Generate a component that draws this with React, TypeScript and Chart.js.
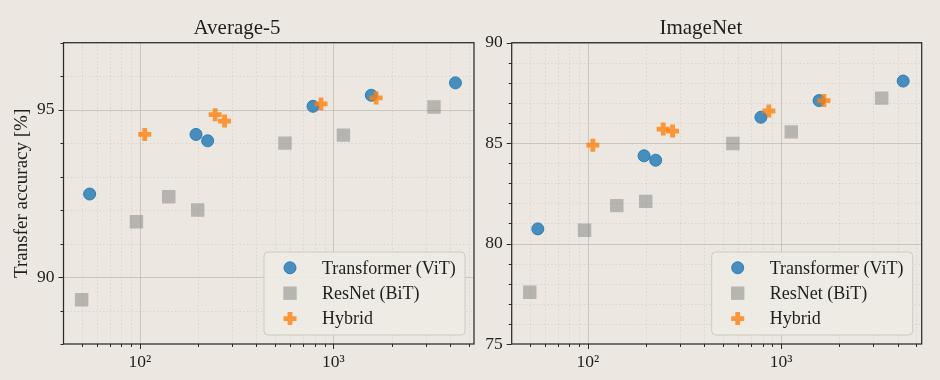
import React, { useEffect, useRef } from 'react';
import { Chart, registerables } from 'chart.js';

Chart.register(...registerables);

const FONT = '"Liberation Serif", "DejaVu Serif", "Times New Roman", serif';
const BG = '#ece8e1';
const TEXT = '#1e1e1e';

// ---- data (x: pre-training compute, log scale) ----
const xVit = [55, 195, 224, 785, 1570, 4275];
const xBit = [50, 96, 141, 199, 562, 1127, 3310];
const xHyb = [106, 245, 274, 863, 1663];

const avgVit = [92.48, 94.26, 94.07, 95.1, 95.43, 95.8];
const avgBit = [89.32, 91.65, 92.4, 92.0, 94.0, 94.24, 95.08];
const avgHyb = [94.26, 94.85, 94.66, 95.17, 95.35];

const inVit = [80.73, 84.37, 84.15, 86.29, 87.12, 88.09];
const inBit = [77.58, 80.66, 81.89, 82.1, 84.98, 85.56, 87.24];
const inHyb = [84.9, 85.7, 85.6, 86.6, 87.12];

// ---- ticks ----
const xTickValues = [50, 60, 70, 80, 90, 100, 200, 300, 400, 500, 600, 700, 800, 900, 1000, 2000, 3000, 4000, 5000];
const xMajor = [100, 1000];
const xMajorLabels = ['10²', '10³'];
const xMin = 40.3;
const xMax = 5330;

const avgYMajor = [90, 95];
const avgYRange = [88, 97];
const inYMajor = [75, 80, 85, 90];
const inYRange = [75, 90];

const seriesNames = ['Transformer (ViT)', 'ResNet (BiT)', 'Hybrid'];

const VIT_FILL = 'rgba(31,119,180,0.8)';
const VIT_EDGE = 'rgba(31,119,180,0.9)';
const BIT_FILL = 'rgba(128,128,128,0.5)';
const HYB_COL = 'rgba(255,127,14,0.8)';

type PanelProps = {
  title: string;
  yLabel?: string;
  vit: number[];
  bit: number[];
  hyb: number[];
  yMajor: number[];
  yRange: number[];
  width: number;
  yAxisWidth: number;
  padRight: number;
};

function drawMarker(ctx: CanvasRenderingContext2D, kind: number, x: number, y: number) {
  ctx.save();
  ctx.setLineDash([]);
  if (kind === 0) {
    ctx.beginPath();
    ctx.arc(x, y, 6, 0, Math.PI * 2);
    ctx.fillStyle = VIT_FILL;
    ctx.fill();
    ctx.lineWidth = 1;
    ctx.strokeStyle = VIT_EDGE;
    ctx.stroke();
  } else if (kind === 1) {
    const s = 6.7;
    ctx.fillStyle = BIT_FILL;
    ctx.fillRect(x - s, y - s, 2 * s, 2 * s);
  } else {
    const r = 6.5;
    ctx.beginPath();
    ctx.moveTo(x - r, y);
    ctx.lineTo(x + r, y);
    ctx.moveTo(x, y - r);
    ctx.lineTo(x, y + r);
    ctx.lineWidth = 4.8;
    ctx.strokeStyle = HYB_COL;
    ctx.stroke();
  }
  ctx.restore();
}

function Panel(p: PanelProps) {
  const ref = useRef<HTMLCanvasElement | null>(null);

  useEffect(() => {
    if (!ref.current) return;
    const [yMin, yMax] = p.yRange;

    const decor = {
      id: 'decor',
      beforeDatasetsDraw(chart: any) {
        const { ctx, chartArea: a } = chart;
        const xs = chart.scales.x;
        const ys = chart.scales.y;
        ctx.save();
        ctx.beginPath();
        ctx.rect(a.left, a.top, a.right - a.left, a.bottom - a.top);
        ctx.clip();
        const vline = (px: number) => {
          ctx.beginPath();
          ctx.moveTo(px, a.top);
          ctx.lineTo(px, a.bottom);
          ctx.stroke();
        };
        const hline = (py: number) => {
          ctx.beginPath();
          ctx.moveTo(a.left, py);
          ctx.lineTo(a.right, py);
          ctx.stroke();
        };
        // minor grid
        ctx.lineWidth = 0.8;
        ctx.setLineDash([1.2, 2.4]);
        ctx.strokeStyle = 'rgba(190,185,178,0.6)';
        for (const v of xTickValues) {
          if (!xMajor.includes(v)) vline(Math.round(xs.getPixelForValue(v)) + 0.5);
        }
        for (let v = yMin; v <= yMax; v++) {
          if (!p.yMajor.includes(v)) hline(Math.round(ys.getPixelForValue(v)) + 0.5);
        }
        // major grid
        ctx.setLineDash([]);
        ctx.lineWidth = 1;
        ctx.strokeStyle = 'rgba(175,170,163,0.55)';
        for (const v of xMajor) vline(Math.round(xs.getPixelForValue(v)) + 0.5);
        for (const v of p.yMajor) hline(Math.round(ys.getPixelForValue(v)) + 0.5);
        ctx.restore();
      },
      afterDatasetsDraw(chart: any) {
        const { ctx, chartArea: a } = chart;
        const xs = chart.scales.x;
        const ys = chart.scales.y;
        // legend
        const bw = 201;
        const bh = 83;
        const bx = a.right - 9 - bw;
        const by = a.bottom - 9 - bh;
        ctx.save();
        ctx.beginPath();
        const r = 4;
        ctx.moveTo(bx + r, by);
        ctx.arcTo(bx + bw, by, bx + bw, by + bh, r);
        ctx.arcTo(bx + bw, by + bh, bx, by + bh, r);
        ctx.arcTo(bx, by + bh, bx, by, r);
        ctx.arcTo(bx, by, bx + bw, by, r);
        ctx.closePath();
        ctx.fillStyle = 'rgba(237,234,228,0.92)';
        ctx.fill();
        ctx.lineWidth = 1;
        ctx.strokeStyle = 'rgba(205,202,196,1)';
        ctx.stroke();
        ctx.font = '18px ' + FONT;
        ctx.fillStyle = TEXT;
        ctx.textBaseline = 'middle';
        ctx.textAlign = 'left';
        seriesNames.forEach((name, i) => {
          const yy = by + 15.8 + i * 25.4;
          drawMarker(ctx, i, bx + 26, yy);
          ctx.fillStyle = TEXT;
          ctx.fillText(name, bx + 58, yy + 1);
        });
        ctx.restore();

        // spines and tick marks
        ctx.save();
        ctx.strokeStyle = '#2b2b2b';
        ctx.lineWidth = 1.25;
        ctx.strokeRect(a.left, a.top, a.right - a.left, a.bottom - a.top);
        ctx.lineWidth = 1;
        for (const v of xTickValues) {
          const px = Math.round(xs.getPixelForValue(v)) + 0.5;
          const len = xMajor.includes(v) ? 5 : 3;
          ctx.beginPath();
          ctx.moveTo(px, a.bottom);
          ctx.lineTo(px, a.bottom + len);
          ctx.stroke();
        }
        for (let v = yMin; v <= yMax; v++) {
          const py = Math.round(ys.getPixelForValue(v)) + 0.5;
          const len = p.yMajor.includes(v) ? 5 : 3;
          ctx.beginPath();
          ctx.moveTo(a.left, py);
          ctx.lineTo(a.left - len, py);
          ctx.stroke();
        }
        ctx.restore();
      },
    };

    const toPts = (xs: number[], ys: number[]) => xs.map((x, i) => ({ x, y: ys[i] }));

    const chart = new Chart(ref.current, {
      type: 'scatter',
      data: {
        datasets: [
          {
            label: seriesNames[0],
            data: toPts(xVit, p.vit),
            pointStyle: 'circle',
            pointRadius: 6,
            backgroundColor: VIT_FILL,
            borderColor: VIT_EDGE,
            borderWidth: 1,
            order: 2,
          },
          {
            label: seriesNames[1],
            data: toPts(xBit, p.bit),
            pointStyle: 'rect',
            pointRadius: 9.5,
            backgroundColor: BIT_FILL,
            borderColor: 'rgba(0,0,0,0)',
            borderWidth: 0,
            order: 1,
          },
          {
            label: seriesNames[2],
            data: toPts(xHyb, p.hyb),
            pointStyle: 'cross',
            pointRadius: 6.5,
            backgroundColor: HYB_COL,
            borderColor: HYB_COL,
            borderWidth: 4.8,
            order: 0,
          },
        ],
      },
      options: {
        animation: false,
        responsive: false,
        events: [],
        layout: { autoPadding: false, padding: { left: 0, right: p.padRight, top: 0, bottom: 0 } },
        plugins: {
          legend: { display: false },
          tooltip: { enabled: false },
          title: {
            display: true,
            text: p.title,
            color: TEXT,
            font: { family: FONT, size: 21, weight: 'normal' },
            padding: { top: 15.5, bottom: 2 },
          },
        },
        scales: {
          x: {
            type: 'logarithmic',
            min: xMin,
            max: xMax,
            grid: { display: false, drawTicks: false },
            border: { display: false },
            afterBuildTicks: (s: any) => {
              s.ticks = xTickValues.map((v) => ({ value: v }));
            },
            afterFit: (s: any) => {
              s.height = 36;
              s.paddingLeft = 0;
              s.paddingRight = 0;
            },
            ticks: {
              autoSkip: false,
              maxRotation: 0,
              minRotation: 0,
              padding: 8,
              color: TEXT,
              font: { family: FONT, size: 17.5 },
              callback: (v: any) => {
                const i = xMajor.indexOf(Number(v));
                return i >= 0 ? xMajorLabels[i] : '';
              },
            },
          },
          y: {
            type: 'linear',
            min: yMin,
            max: yMax,
            grid: { display: false, drawTicks: false },
            border: { display: false },
            afterFit: (s: any) => {
              s.width = p.yAxisWidth;
              s.paddingTop = 0;
              s.paddingBottom = 0;
            },
            title: {
              display: !!p.yLabel,
              text: p.yLabel || '',
              color: TEXT,
              font: { family: FONT, size: 19, weight: 'normal' },
              padding: { top: 11, bottom: 0 },
            },
            ticks: {
              stepSize: 1,
              autoSkip: false,
              padding: 9,
              color: TEXT,
              font: { family: FONT, size: 17.5 },
              callback: (v: any) => (p.yMajor.includes(Number(v)) ? String(v) : ''),
            },
          },
        },
      },
      plugins: [decor],
    } as any);

    return () => chart.destroy();
  }, []);

  return (
    <canvas ref={ref} width={p.width} height={380} style={{ display: 'block', width: p.width, height: 380 }} />
  );
}

export default function App() {
  return (
    <div
      style={{
        position: 'fixed',
        left: 0,
        top: 0,
        width: 940,
        height: 380,
        background: BG,
        display: 'flex',
        flexDirection: 'row',
      }}
    >
      <Panel
        title="Average-5"
        yLabel="Transfer accuracy [%]"
        vit={avgVit}
        bit={avgBit}
        hyb={avgHyb}
        yMajor={avgYMajor}
        yRange={avgYRange}
        width={480}
        yAxisWidth={63.5}
        padRight={6}
      />
      <Panel
        title="ImageNet"
        vit={inVit}
        bit={inBit}
        hyb={inHyb}
        yMajor={inYMajor}
        yRange={inYRange}
        width={460}
        yAxisWidth={31.7}
        padRight={18.3}
      />
    </div>
  );
}
